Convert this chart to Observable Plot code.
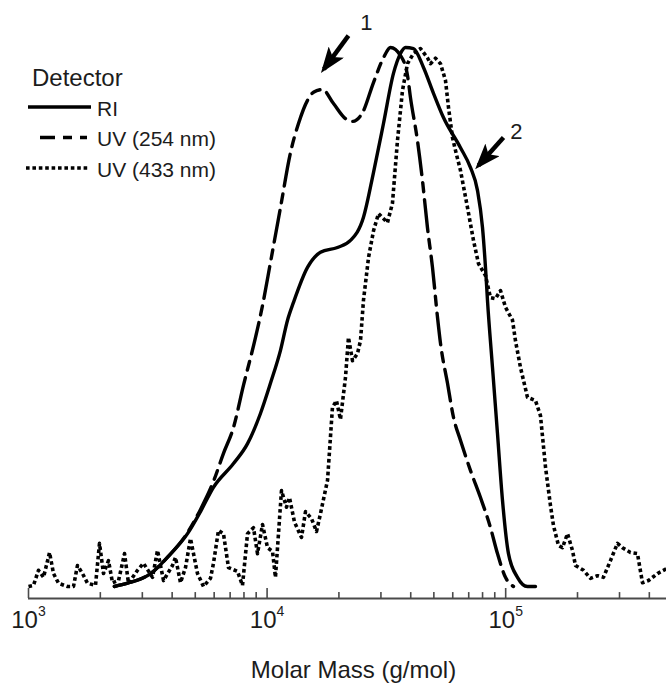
<!DOCTYPE html>
<html>
<head>
<meta charset="utf-8">
<script src="https://cdn.jsdelivr.net/npm/d3@7"></script>
<script src="https://cdn.jsdelivr.net/npm/@observablehq/plot@0.6"></script>
<style>
  body { margin: 0; background: #fff; }
  #chart { position: relative; width: 666px; height: 685px; font-family: "Liberation Sans", Arial, Helvetica, sans-serif; }
  #chart svg { display: block; }
  #legend { position: absolute; left: 0; top: 0; }
</style>
</head>
<body>
<div id="chart"></div>
<script>
// ---------- data (molar mass in g/mol, normalized detector signal in %) ----------
const riMass = [2290, 2600, 3250, 3820, 4640, 5260, 5960, 7230, 8280, 9380, 10330, 11380, 12180, 12900, 14770, 16740, 19720, 22360, 25350, 27920, 30750, 33860, 36240, 38020, 41090, 45240, 49820, 54860, 64670, 71220, 76170, 79950, 82290, 83890, 88060, 92380, 96960, 102730, 112040, 123400, 133320];
const riSignal = [0, 0.6, 2.4, 5.4, 9.8, 13.9, 18.4, 22.8, 26.5, 32.1, 37.7, 43.8, 49.4, 52.7, 59.2, 62.0, 62.9, 64.2, 68.5, 76.8, 85.9, 95.2, 98.9, 100, 99.8, 96.3, 91.5, 87.0, 81.4, 77.7, 73.5, 66.6, 59.2, 53.1, 40.6, 28.4, 16.0, 6.1, 1.7, 0, 0];

const uv254Mass = [2290, 2600, 3250, 3820, 4640, 5260, 5960, 6565, 7230, 7960, 8943, 9566, 10330, 11380, 12533, 13541, 14770, 15650, 17070, 18980, 21310, 22800, 25110, 27920, 30750, 32900, 36240, 38770, 39900, 42690, 44800, 47000, 49340, 51800, 53310, 57040, 60420, 64670, 71220, 78420, 86370, 92380, 99790, 107800];
const uv254Signal = [0, 0.6, 2.4, 5.4, 10.0, 14.3, 19.5, 24.7, 29.5, 37.3, 46.2, 52.1, 60.1, 70.3, 80.5, 85.9, 90.2, 91.7, 92.2, 89.6, 86.8, 86.3, 87.9, 93.5, 98.1, 100, 98.5, 94.8, 90.7, 82.7, 75.3, 66.6, 59.2, 49.9, 45.1, 37.7, 31.4, 27.1, 21.5, 16.5, 10.9, 6.1, 1.7, 0];

const uv433Mass = [1000, 1049, 1101, 1156, 1225, 1273, 1336, 1457, 1544, 1604, 1684, 1767, 1909, 1984, 2062, 2164, 2249, 2384, 2526, 2625, 2863, 3034, 3309, 3473, 3681, 4013, 4131, 4336, 4550, 4775, 5109, 5414, 5790, 5960, 6255, 6564, 6890, 7516, 7887, 8278, 8770, 9116, 9566, 10040, 10540, 10840, 11490, 12060, 12410, 13030, 13940, 14490, 15350, 16110, 16740, 17920, 18790, 19530, 20300, 21310, 21930, 22800, 23920, 24630, 25350, 26610, 27930, 29310, 31950, 33530, 35190, 36930, 38760, 41080, 43950, 47000, 48390, 50790, 53310, 55930, 57580, 59840, 61600, 64640, 69180, 73290, 76910, 82280, 86340, 90610, 95110, 99810, 106800, 109900, 115400, 123400, 133300, 139900, 146900, 154100, 158600, 166500, 173000, 181600, 190500, 196100, 212000, 226700, 242500, 256900, 274900, 294100, 308600, 333500, 356700, 374400, 396700, 432700, 472100];
const uv433Signal = [0, 0.2, 3.0, 1.7, 6.3, 2.4, 0.6, 0, 0, 3.9, 2.4, 0.6, 0.2, 8.0, 2.4, 4.8, 0.7, 1.1, 6.1, 0.6, 3.0, 4.3, 1.7, 6.7, 1.1, 3.9, 5.4, 0.7, 3.5, 8.9, 2.4, 0, 1.5, 4.3, 10.4, 9.8, 3.5, 2.8, 0.2, 9.8, 10.9, 6.1, 11.5, 7.2, 6.5, 1.7, 17.8, 14.7, 16.5, 11.9, 9.1, 13.9, 12.6, 10.2, 13.5, 19.7, 33.2, 34.5, 31.0, 38.8, 46.2, 41.9, 43.2, 45.6, 53.1, 61.0, 66.0, 69.2, 67.5, 71.1, 82.7, 92.0, 97.0, 98.9, 99.8, 98.1, 97.0, 98.0, 97.0, 93.9, 88.9, 83.3, 80.9, 77.2, 70.3, 64.2, 59.9, 57.7, 53.6, 53.4, 54.9, 51.8, 49.4, 45.6, 40.6, 35.1, 34.5, 31.7, 22.1, 15.0, 11.3, 7.6, 7.2, 9.8, 6.7, 3.9, 3.0, 1.5, 2.0, 1.7, 4.8, 8.0, 7.2, 6.3, 6.1, 0.7, 1.1, 2.4, 3.3];

const seriesNames = ["RI", "UV (254 nm)", "UV (433 nm)"];
const legendTitle = "Detector";
const axisLabel = "Molar Mass (g/mol)";

const majorTicks = [1e3, 1e4, 1e5];
const minorTicks = [2e3, 3e3, 4e3, 5e3, 6e3, 7e3, 8e3, 9e3, 2e4, 3e4, 4e4, 5e4, 6e4, 7e4, 8e4, 9e4, 2e5, 3e5, 4e5];

// annotation arrows (tail -> tip) and their labels
const arrowLabels = ["1", "2"];
const arrowTailMass = [21930, 97900];
const arrowTailSignal = [102.2, 83.3];
const arrowTipMass = [17300, 76900];
const arrowTipSignal = [96.0, 78.1];
const arrowLabelMass = [26100, 111000];
const arrowLabelSignal = [104.5, 84.4];

// ---------- scales / styles ----------
const xDomain = [1000, 472100];
const yDomain = [-2.23, 100];
const majorTickLen = 1.86;
const minorTickLen = 1.1;
const ink = "#000";
const textInk = "#1c1c1c";
const dashUV254 = "32,8,9,8";
const dotUV433 = "3.6,2.8";
const fontFamily = '"Liberation Sans", Arial, Helvetica, sans-serif';

const rows = (mass, signal) => mass.map((m, i) => ({m, v: signal[i]}));
const arrows = arrowLabels.map((label, i) => ({
  label, x1: arrowTailMass[i], y1: arrowTailSignal[i], x2: arrowTipMass[i], y2: arrowTipSignal[i],
  lx: arrowLabelMass[i], ly: arrowLabelSignal[i]
}));

function filledHead(color) {
  const m = d3.create("svg:marker")
    .attr("viewBox", "-21 -9.5 26 19")
    .attr("markerWidth", 26)
    .attr("markerHeight", 19)
    .attr("markerUnits", "userSpaceOnUse")
    .attr("refX", 0)
    .attr("refY", 0)
    .attr("orient", "auto");
  m.append("path").attr("d", "M5,0L-21,-9.5L-15,0L-21,9.5Z").attr("fill", color).attr("stroke", "none");
  return m.node();
}

const svg = Plot.plot({
  width: 666,
  height: 685,
  marginLeft: 28,
  marginRight: 0,
  marginTop: 47,
  marginBottom: 87,
  style: {fontFamily, background: "#fff", color: textInk},
  x: {type: "log", domain: xDomain, axis: null},
  y: {domain: yDomain, axis: null},
  marks: [
    Plot.line(rows(uv433Mass, uv433Signal), {x: "m", y: "v", stroke: ink, strokeWidth: 3.6, strokeDasharray: dotUV433, strokeLinecap: "butt"}),
    Plot.line(rows(uv254Mass, uv254Signal), {x: "m", y: "v", stroke: ink, strokeWidth: 3.4, strokeDasharray: dashUV254, curve: "monotone-x"}),
    Plot.line(rows(riMass, riSignal), {x: "m", y: "v", stroke: ink, strokeWidth: 3.4, curve: "monotone-x"}),
    Plot.ruleY([yDomain[0]], {stroke: "#4a4a4a", strokeWidth: 2}),
    Plot.ruleX(majorTicks, {x: d => d, y1: yDomain[0], y2: yDomain[0] + majorTickLen, stroke: "#4a4a4a", strokeWidth: 1.6}),
    Plot.ruleX(minorTicks, {x: d => d, y1: yDomain[0], y2: yDomain[0] + minorTickLen, stroke: "#4a4a4a", strokeWidth: 1.6}),
    Plot.axisX(majorTicks, {anchor: "bottom", tickSize: 0, tickPadding: 12, fontSize: 24, label: null, tickFormat: d => `10^${Math.round(Math.log10(d))}`, fill: textInk}),
    Plot.text([axisLabel], {frameAnchor: "bottom", lineAnchor: "bottom", dy: 79, dx: 6, fontSize: 24, fill: textInk}),
    Plot.link(arrows, {x1: "x1", y1: "y1", x2: "x2", y2: "y2", stroke: ink, strokeWidth: 4.5, markerEnd: filledHead}),
    Plot.text(arrows, {x: "lx", y: "ly", text: "label", fontSize: 22, fill: textInk, textAnchor: "middle", lineAnchor: "middle"})
  ]
});

// superscript exponents on the tick labels
d3.select(svg).selectAll('[aria-label="x-axis tick label"] text').each(function () {
  const parts = this.textContent.split("^");
  const t = d3.select(this);
  t.text(parts[0]);
  t.append("tspan").attr("dy", -12).attr("font-size", 14).text(parts[1]);
});

const chart = document.getElementById("chart");
chart.appendChild(svg);

// legend (overlaid in the upper-left of the plot area)
const legendStyles = [
  {dash: null, x1: 28, x2: 91, offset: 0, width: 3.4},
  {dash: dashUV254, x1: 40, x2: 87, offset: -40, width: 3.4},
  {dash: dotUV433, x1: 26, x2: 88, offset: 0, width: 3.6}
];
const lg = d3.select(chart).append("svg").attr("id", "legend").attr("width", 240).attr("height", 190)
  .style("font-family", fontFamily);
lg.append("text").attr("x", 32).attr("y", 86).attr("font-size", 24).attr("fill", textInk).text(legendTitle);
seriesNames.forEach((name, i) => {
  const yLine = 107 + i * 30.5;
  const s = legendStyles[i];
  lg.append("line").attr("x1", s.x1).attr("x2", s.x2).attr("y1", yLine).attr("y2", yLine)
    .attr("stroke", ink).attr("stroke-width", s.width)
    .attr("stroke-dasharray", s.dash).attr("stroke-dashoffset", s.offset);
  lg.append("text").attr("x", 97).attr("y", yLine + 8.5).attr("font-size", 21).attr("fill", textInk).text(name);
});
</script>
</body>
</html>
